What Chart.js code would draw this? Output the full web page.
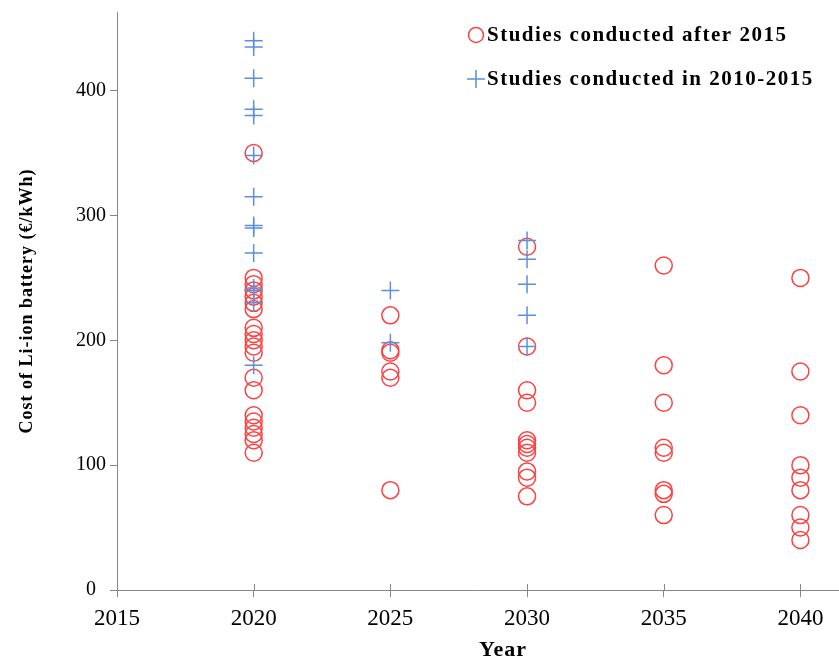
<!DOCTYPE html>
<html>
<head>
<meta charset="utf-8">
<script src="https://cdn.jsdelivr.net/npm/chart.js@4.4.1/dist/chart.umd.min.js"></script>
<style>
  html, body { margin: 0; padding: 0; background: #fff; overflow: hidden; }
  canvas { display: block; }
</style>
</head>
<body>
<!-- canvas is a bit wider than the window so the x axis runs off the right edge like the original -->
<canvas id="costChart" width="850" height="659"></canvas>
<script>
// values (€/kWh)
const years = [2020, 2025, 2030, 2035, 2040];
const xTicks = [2015, 2020, 2025, 2030, 2035, 2040];
const yTicks = [0, 100, 200, 300, 400];

const after2015_2020 = [350, 250, 245, 240, 235, 230, 225, 210, 205, 200, 195, 190, 170, 160, 140, 135, 130, 125, 120, 110];
const after2015_2025 = [220, 192, 190, 175, 170, 80];
const after2015_2030 = [275, 195, 160, 150, 120, 117, 114, 110, 95, 90, 75];
const after2015_2035 = [260, 180, 150, 114, 110, 80, 77, 60];
const after2015_2040 = [250, 175, 140, 100, 90, 80, 60, 50, 40];

const early_2020 = [440, 435, 410, 385, 380, 348, 315, 292, 290, 270, 242, 240, 230, 180];
const early_2025 = [240, 198];
const early_2030 = [280, 265, 245, 220, 195];

const labelAfter = 'Studies conducted after 2015';
const labelEarly = 'Studies conducted in 2010-2015';
const xTitle = 'Year';
const yTitle = 'Cost of Li-ion battery (€/kWh)';

const toPoints = (year, list) => list.map(v => ({x: year, y: v}));

const afterPoints = [].concat(
    toPoints(years[0], after2015_2020),
    toPoints(years[1], after2015_2025),
    toPoints(years[2], after2015_2030),
    toPoints(years[3], after2015_2035),
    toPoints(years[4], after2015_2040)
);
const earlyPoints = [].concat(
    toPoints(years[0], early_2020),
    toPoints(years[1], early_2025),
    toPoints(years[2], early_2030)
);

const serif = "'Liberation Serif', 'Times New Roman', serif";
const axisGrey = '#878787';

// legend + axis titles drawn by hand (they are letter-spaced in the original)
const textLayer = {
    id: 'textLayer',
    afterDraw(chart) {
        const ctx = chart.ctx;
        const area = chart.chartArea;
        ctx.save();
        ctx.letterSpacing = '1.5px';
        const rows = [35, 79];
        chart.data.datasets.forEach((ds, i) => {
            const y = rows[i];
            ctx.strokeStyle = ds.borderColor;
            ctx.fillStyle = 'rgba(0,0,0,0)';
            ctx.lineWidth = ds.borderWidth;
            Chart.helpers.drawPoint(ctx, {pointStyle: ds.pointStyle, radius: ds.pointStyle === 'cross' ? 9 : 7.5, borderWidth: ds.borderWidth, rotation: 0}, 476, y);
            ctx.fillStyle = '#000';
            ctx.font = 'bold 21px ' + serif;
            ctx.textBaseline = 'middle';
            ctx.textAlign = 'left';
            ctx.fillText(ds.label, 487, y + 1);
        });

        ctx.letterSpacing = '1px';
        ctx.fillStyle = '#000';
        ctx.textAlign = 'center';
        ctx.textBaseline = 'middle';
        ctx.font = 'bold 22px ' + serif;
        ctx.fillText(xTitle, 503, 650);

        ctx.translate(27, (area.top + area.bottom) / 2);
        ctx.rotate(-Math.PI / 2);
        ctx.font = 'bold 18px ' + serif;
        ctx.fillText(yTitle, 0, 0);
        ctx.restore();

        // x ticks cross the axis line: add the upper half
        const xs = chart.scales.x;
        ctx.save();
        ctx.strokeStyle = axisGrey;
        ctx.lineWidth = 1;
        xs.ticks.forEach(t => {
            const px = Math.round(xs.getPixelForValue(t.value)) + 0.5;
            ctx.beginPath();
            ctx.moveTo(px, xs.top - 6);
            ctx.lineTo(px, xs.top);
            ctx.stroke();
        });
        ctx.restore();
    }
};

new Chart(document.getElementById('costChart'), {
    type: 'scatter',
    data: {
        datasets: [
            {
                label: labelAfter,
                data: afterPoints,
                pointStyle: 'circle',
                pointRadius: 8.5,
                pointHoverRadius: 8.5,
                borderWidth: 1.5,
                borderColor: '#ff4040',
                backgroundColor: 'rgba(0,0,0,0)',
                order: 2
            },
            {
                label: labelEarly,
                data: earlyPoints,
                pointStyle: 'cross',
                pointRadius: 9,
                pointHoverRadius: 9,
                borderWidth: 1.5,
                borderColor: '#5b8fdb',
                backgroundColor: 'rgba(0,0,0,0)',
                order: 1
            }
        ]
    },
    options: {
        responsive: false,
        animation: false,
        layout: { padding: { top: 12, right: 0, bottom: 0, left: 0 } },
        plugins: {
            legend: { display: false },
            tooltip: { enabled: false }
        },
        scales: {
            x: {
                type: 'linear',
                min: 2015,
                max: 2041.43,
                afterFit: s => { s.height = 69; s.paddingLeft = 0; s.paddingRight = 0; },
                afterBuildTicks: s => { s.ticks = xTicks.map(v => ({value: v})); },
                grid: { drawOnChartArea: false, tickLength: 7, color: axisGrey },
                border: { color: axisGrey },
                ticks: {
                    padding: 8,
                    color: '#000',
                    font: { family: serif, size: 23 },
                    callback: v => String(v)
                }
            },
            y: {
                min: 0,
                max: 463,
                afterFit: s => { s.width = 117; s.paddingTop = 0; s.paddingBottom = 0; },
                afterBuildTicks: s => { s.ticks = yTicks.map(v => ({value: v})); },
                grid: { drawOnChartArea: false, tickLength: 7, color: axisGrey },
                border: { color: axisGrey },
                ticks: {
                    padding: 4,
                    crossAlign: 'center',
                    color: '#000',
                    font: { family: serif, size: 20 }
                }
            }
        }
    },
    plugins: [textLayer]
});
</script>
</body>
</html>
